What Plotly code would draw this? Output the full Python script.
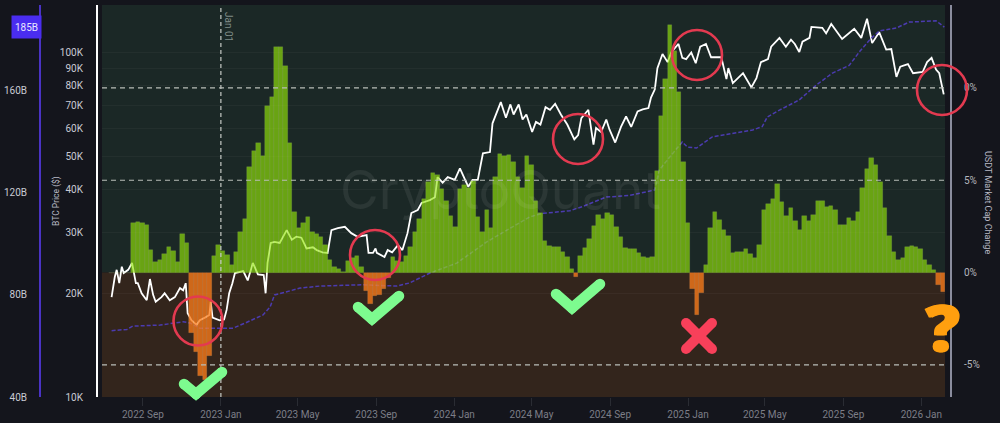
"""
USDT market cap change vs. BTC price, CryptoQuant style chart with hand drawn
circles, ticks and cross on top.
"""

import pandas as pd
import plotly.graph_objects as go

START = pd.Timestamp("2022-07-13")

# weekly USDT market cap change (%)
change_pct = [
    0, 0, 0, 0, 0, 2.7, 2.75, 2.7, 2.55, 1.2, 0.55, 0.7, 1.0, 1.4, 1.15, 0.55, 2.1, 1.6,
    -3.3, -4.3, -5.6, -5.8, -4.5, 0.9, 1.5, 1.15, 0.95, 0.4, 1.1, 2.2, 2.9, 5.7, 6.6, 7.0,
    6.3, 9.0, 9.5, 12.2, 12.2, 11.2, 7.0, 3.3, 2.4, 2.7, 3.0, 2.2, 2.1, 1.9, 1.5, 0.7, 0.3,
    0.2, 0.05, 0.6, 0.8, 0.9, 0.3, -1.0, -1.7, -1.25, -1.2, -0.9, -0.3, 0.85, 0.65, 0.55,
    0.9, 1.4, 2.2, 2.9, 4.0, 4.9, 5.4, 5.3, 4.5, 3.85, 3.05, 2.45, 4.5, 4.75, 4.6, 4.95,
    3.0, 2.2, 3.4, 2.4, 5.2, 6.4, 6.3, 6.35, 6.0, 5.2, 4.6, 6.3, 5.8, 3.9, 3.2, 1.7, 1.45,
    1.4, 1.4, 1.1, 0.85, 0.2, -0.25, 0.9, 1.35, 1.8, 2.5, 3.1, 2.9, 3.2, 3.1, 2.45, 1.9,
    1.35, 1.25, 1.3, 1.05, 0.85, 0.8, 0.85, 5.5, 8.5, 10.5, 13.4, 12.0, 9.8, 6.0, 2.7,
    -0.9, -2.3, -1.1, 0.4, 2.4, 3.3, 2.85, 2.3, 2.0, 1.05, 1.1, 1.1, 1.3, 1.0, 0.8, 1.5,
    3.4, 3.7, 4.0, 4.8, 3.8, 3.05, 3.5, 2.8, 2.3, 3.05, 2.8, 3.1, 3.85, 3.85, 3.55, 3.6,
    3.4, 2.6, 2.6, 2.95, 2.8, 3.3, 4.6, 5.6, 6.2, 5.8, 4.9, 3.5, 2.0, 1.1, 0.7, 0.8, 1.4,
    1.45, 1.4, 1.3, 0.7, 0.4, 0.15, -0.65, -1.05,
]

# BTC price in $K, days counted from START
btc_days = [
    1, 6, 9, 13, 17, 20, 27, 33, 39, 42, 48, 56, 61, 66, 70, 79, 84, 92, 100, 108, 113, 117,
    120, 126, 134, 139, 147, 154, 156, 159, 170, 177, 181, 185, 190, 194, 207, 214, 222, 230,
    239, 242, 245, 250, 256, 264, 275, 283, 290, 298, 306, 316, 322, 331, 339, 345, 355, 366,
    376, 386, 400, 403, 410, 414, 416, 428, 433, 440, 449, 456, 464, 470, 480, 486, 499, 507,
    511, 519, 527, 538, 546, 554, 559, 566, 574, 582, 593, 597, 610, 618, 625, 630, 638, 644,
    650, 659, 665, 672, 680, 687, 695, 704, 714, 725, 731, 736, 747, 755, 759, 767, 775, 780,
    789, 798, 806, 814, 824, 832, 841, 845, 851, 855, 863, 871, 877, 888, 894, 900, 908, 915,
    922, 931, 939, 955, 963, 966, 973, 989, 1002, 1010, 1017, 1028, 1033, 1046, 1056, 1064,
    1070, 1077, 1082, 1093, 1096, 1113, 1119, 1127, 1144, 1163, 1174, 1183, 1191, 1202, 1213,
    1221, 1229, 1235, 1247, 1255, 1270, 1277, 1284, 1291, 1296, 1303,
]
btc_price = [
    19.5, 22.3, 23.4, 21.4, 23.9, 22.9, 23.4, 24.5, 21.4, 21.4, 20.0, 19.1, 22.0, 19.8, 18.9,
    19.5, 20.0, 19.1, 19.5, 20.7, 20.4, 21.4, 17.5, 16.7, 16.2, 16.7, 17.0, 17.3, 18.9, 17.0,
    16.7, 16.8, 17.9, 20.0, 21.4, 22.9, 23.2, 21.8, 24.5, 22.7, 22.6, 20.0, 24.5, 28.0, 28.2,
    28.0, 30.5, 28.6, 29.2, 29.0, 27.0, 27.2, 26.7, 26.3, 26.2, 30.5, 30.9, 31.2, 29.9, 29.2,
    29.5, 26.2, 26.2, 27.0, 26.2, 25.5, 26.7, 26.3, 27.6, 26.7, 29.9, 34.2, 34.9, 36.6, 37.3,
    38.0, 43.5, 41.9, 43.5, 42.7, 46.1, 42.7, 40.8, 42.7, 42.7, 51.0, 51.4, 62.3, 71.8, 64.7,
    70.7, 66.1, 70.7, 63.9, 66.1, 58.8, 62.9, 61.8, 69.4, 68.2, 71.0, 66.1, 61.8, 56.0, 57.6,
    64.5, 68.2, 54.0, 60.4, 58.8, 63.9, 59.8, 54.8, 60.8, 65.2, 60.8, 67.5, 68.4, 69.0, 74.0,
    78.2, 90.1, 99.0, 93.8, 100.4, 105.9, 96.5, 95.7, 100.0, 93.1, 104.0, 105.9, 96.9, 96.9,
    83.7, 90.1, 81.5, 87.1, 79.2, 84.3, 93.8, 95.7, 104.0, 110.3, 104.0, 109.0, 105.9, 100.4,
    107.5, 110.3, 118.7, 118.0, 113.7, 121.0, 109.5, 117.2, 110.3, 125.3, 106.5, 114.6, 102.0,
    102.4, 85.0, 91.0, 92.6, 87.1, 87.8, 93.8, 96.5, 89.2, 87.1, 75.6,
]

# USDT market cap in $B
usdt_days = [
    1, 25, 34, 77, 113, 124, 139, 191, 210, 238, 249, 256, 296, 327, 394, 447, 467, 483, 499,
    541, 588, 655, 675, 718, 738, 775, 811, 851, 858, 874, 894, 902, 916, 941, 1004, 1019,
    1027, 1046, 1077, 1104, 1129, 1155, 1171, 1187, 1202, 1229, 1249, 1291, 1304,
]
usdt_cap = [
    66, 66.5, 67.8, 68.2, 69.5, 69, 67, 67, 69, 72.2, 75.3, 80, 82.7, 83.5, 84, 83.5, 84.7,
    86.6, 88.6, 92.5, 100.8, 110.6, 112, 113, 114.7, 118.4, 119, 121.2, 129, 134, 140, 138,
    137.6, 142, 144.7, 146, 149.8, 152.5, 156.5, 162.4, 167, 170, 175.3, 180, 183.5, 184.7,
    187, 187.5, 185,
]

btc_ticks = [10000, 20000, 30000, 40000, 50000, 60000, 70000, 80000, 90000, 100000]
btc_labels = ["10K", "20K", "30K", "40K", "50K", "60K", "70K", "80K", "90K", "100K"]
usdt_ticks = [40, 80, 120, 160]
usdt_labels = ["40B", "80B", "120B", "160B"]
change_ticks = [-5, 0, 5, 10]
change_labels = ["-5%", "0%", "5%", "0%"]  # the top one is cut to 0% in the source
dash_levels = [-5, 5, 10]

BG = "#14151c"
WIDTH, HEIGHT = 1000, 423


def px(x, y):
    return x / WIDTH, 1 - y / HEIGHT


def stroke(points, color, width):
    """thick polyline with round ends, given in page pixels"""
    coords = [px(x, y) for x, y in points]
    path = "M " + " L ".join(f"{a:.4f} {b:.4f}" for a, b in coords)
    shapes = [dict(type="path", path=path, xref="paper", yref="paper",
                   line=dict(color=color, width=width), layer="above")]
    r = width / 2
    for x, y in points:
        x0, y0 = px(x - r, y + r)
        x1, y1 = px(x + r, y - r)
        shapes.append(dict(type="circle", xref="paper", yref="paper", x0=x0, y0=y0, x1=x1, y1=y1,
                           fillcolor=color, line=dict(width=0), layer="above"))
    return shapes


def ring(x, y, r):
    x0, y0 = px(x - r, y + r)
    x1, y1 = px(x + r, y - r)
    return dict(type="circle", xref="paper", yref="paper", x0=x0, y0=y0, x1=x1, y1=y1,
                line=dict(color="#e33a50", width=2.6), layer="above")


bar_dates = [START + pd.Timedelta(days=7 * i) for i in range(len(change_pct))]
btc_dates = [START + pd.Timedelta(days=d) for d in btc_days]
usdt_dates = [START + pd.Timedelta(days=d) for d in usdt_days]
bar_colors = ["rgba(148,229,9,0.65)" if v >= 0 else "rgba(250,123,25,0.78)" for v in change_pct]
edge_colors = ["rgba(200,225,160,0.22)" if v >= 0 else "rgba(240,170,110,0.3)" for v in change_pct]

fig = go.Figure()
fig.add_trace(go.Scatter(x=btc_dates, y=[p * 1000 for p in btc_price], mode="lines", yaxis="y",
                         line=dict(color="#ffffff", width=1.8)))
fig.add_trace(go.Scatter(x=usdt_dates, y=usdt_cap, mode="lines", yaxis="y2",
                         line=dict(color="#4b3bb0", width=1.5, dash="4px,2px")))
fig.add_trace(go.Bar(x=bar_dates, y=change_pct, yaxis="y3",
                     marker=dict(color=bar_colors, line=dict(width=0.6, color=edge_colors))))

tick_font = dict(family="Roboto, sans-serif", size=10, color="#c9cad3")

shapes = [
    dict(type="rect", xref="paper", yref="y3", x0=0.102, x1=0.945, y0=0, y1=14.49,
         fillcolor="#1b2826", line=dict(width=0), layer="below"),
    dict(type="rect", xref="paper", yref="y3", x0=0.102, x1=0.945, y0=-6.74, y1=0,
         fillcolor="#33251c", line=dict(width=0), layer="below"),
    dict(type="line", xref="x", yref="paper", x0="2023-01-01", x1="2023-01-01", y0=1 - 397 / HEIGHT, y1=1 - 5 / HEIGHT,
         line=dict(color="#c6cac6", width=1.2, dash="4px,3px"), layer="above"),
]
for level in dash_levels:
    shapes.append(dict(type="line", xref="paper", yref="y3", x0=0.102, x1=0.945, y0=level, y1=level,
                       line=dict(color="#b9bdb8", width=1.1, dash="5px,4px"), layer="above"))

for centre in [(198, 321, 24.5), (375, 255, 25), (578, 139, 25), (697, 55, 25), (942, 90, 25)]:
    shapes.append(ring(*centre))

GREEN = "#7dfb8f"
shapes += stroke([(184, 384), (196, 394), (222, 372)], GREEN, 10.5)
shapes += stroke([(358, 307), (372, 319), (399, 296)], GREEN, 10.5)
shapes += stroke([(556, 294), (572, 308), (600, 284)], GREEN, 10.5)
shapes += stroke([(686, 323), (712, 349)], "#f8405a", 10)
shapes += stroke([(712, 323), (686, 349)], "#f8405a", 10)

annotations = [
    dict(text="CryptoQuant", x=0.5, y=1 - 190 / HEIGHT,
         font=dict(family="Inter, sans-serif", size=53, color="rgba(255,255,255,0.07)")),
    dict(text="BTC Price ($)", x=0.056, y=1 - 201 / HEIGHT, textangle=-90,
         font=dict(family="Roboto, sans-serif", size=8.5, color="#b9bac6")),
    dict(text="USDT Market Cap Change", x=0.988, y=1 - 202 / HEIGHT, textangle=90,
         font=dict(family="Roboto, sans-serif", size=9, color="#b9bac6")),
    dict(text="Jan 01", x=0.228, y=1 - 27 / HEIGHT, textangle=90,
         font=dict(family="Roboto, sans-serif", size=10, color="#7f8b87")),
    dict(text="?", x=0.9425, y=1 - 326 / HEIGHT,
         font=dict(family="Open Sans, sans-serif", size=66, color="#ff9f0f", weight=800,
                   shadow="1.5px 0 #ff9f0f, -1.5px 0 #ff9f0f")),
    dict(text="185B", x=0.0265, y=185, yref="y2", bgcolor="#4a2df0",
         width=27, height=20, font=dict(family="Roboto, sans-serif", size=10, color="#e8e6ff")),
]
for note in annotations:
    note.update(xref="paper", showarrow=False, xanchor="center", yanchor="middle")
    note.setdefault("yref", "paper")

fig.update_layout(
    width=WIDTH, height=HEIGHT, autosize=False,
    margin=dict(l=0, r=0, t=0, b=0),
    paper_bgcolor=BG, plot_bgcolor="rgba(0,0,0,0)",
    showlegend=False, bargap=0, hovermode=False,
    shapes=shapes, annotations=annotations,
    xaxis=dict(
        domain=[0.102, 0.945], anchor="y", type="date", automargin=False,
        range=["2022-06-29", "2026-02-07"],
        tick0="2022-09-01", dtick="M4", tickformat="%Y %b",
        ticks="outside", ticklen=8, tickcolor="#2a2c33", showgrid=False, zeroline=False,
        tickfont=dict(family="Roboto, sans-serif", size=10, color="#7c7e87"),
    ),
    yaxis=dict(
        domain=[1 - 397 / HEIGHT, 1 - 5 / HEIGHT], type="log", range=[4, 5.138], automargin=False,
        anchor="free", position=0.097, side="left",
        tickvals=btc_ticks, ticktext=btc_labels, tickfont=tick_font,
        ticks="outside", ticklen=11, tickcolor="rgba(0,0,0,0)",
        showline=True, linecolor="#ffffff", linewidth=2,
        showgrid=True, gridcolor="rgba(255,255,255,0.035)", zeroline=False,
    ),
    yaxis2=dict(
        domain=[1 - 397 / HEIGHT, 1 - 5 / HEIGHT], range=[40, 193.7], overlaying="y", automargin=False,
        anchor="free", position=0.04, side="left",
        tickvals=usdt_ticks, ticktext=usdt_labels, tickfont=tick_font,
        ticks="outside", ticklen=10, tickcolor="rgba(0,0,0,0)",
        showline=True, linecolor="#4a33c4", linewidth=2, showgrid=False, zeroline=False,
    ),
    yaxis3=dict(
        domain=[1 - 397 / HEIGHT, 1 - 5 / HEIGHT], range=[-6.74, 14.49], overlaying="y", automargin=False,
        anchor="free", position=0.951, side="right",
        tickvals=change_ticks, ticktext=change_labels, tickfont=dict(tick_font, color="#b4b5be"),
        ticks="outside", ticklen=10, tickcolor="rgba(0,0,0,0)",
        showline=True, linecolor="#8b8d9e", linewidth=2, showgrid=False, zeroline=False,
    ),
)

fig.write_html("out.html", config={"displayModeBar": False},
               post_script="document.body.style.margin='0';document.body.style.background='%s';" % BG)
